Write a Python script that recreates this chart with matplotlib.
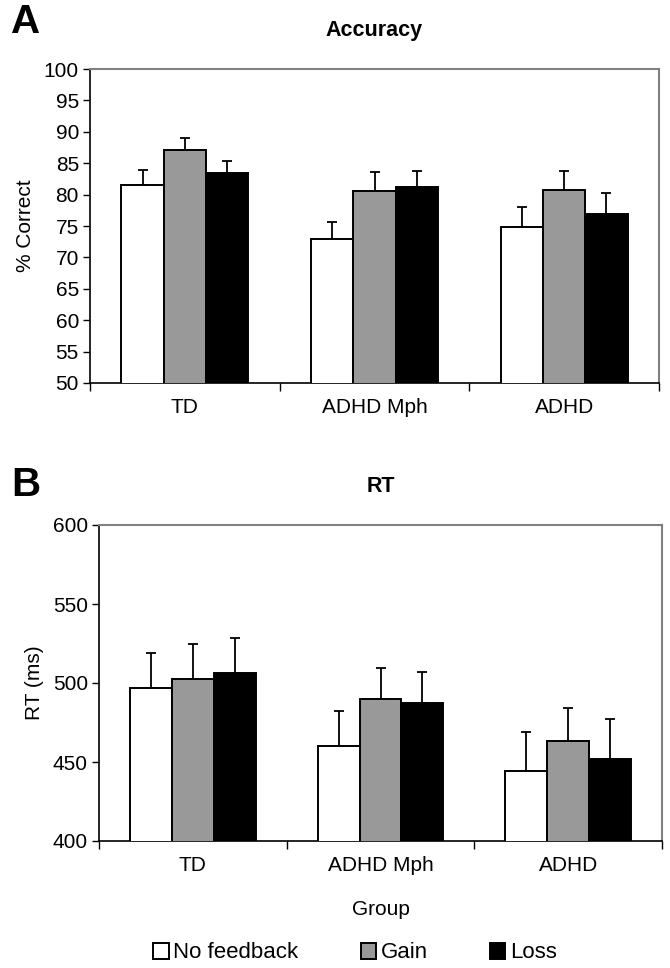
import matplotlib
matplotlib.use("Agg")
import matplotlib.pyplot as plt
import numpy as np

plt.rcParams['font.family'] = ['Liberation Sans', 'DejaVu Sans']

groups = ["TD", "ADHD Mph", "ADHD"]
conditions = ["No feedback", "Gain", "Loss"]
colors = ["#ffffff", "#999999", "#000000"]

acc_mean = {
    "No feedback": [81.5, 72.95, 74.9],
    "Gain": [87.1, 80.6, 80.75],
    "Loss": [83.4, 81.2, 76.9],
}
acc_err = {
    "No feedback": [2.4, 2.75, 3.15],
    "Gain": [1.9, 3.0, 3.05],
    "Loss": [1.95, 2.6, 3.3],
}
rt_mean = {
    "No feedback": [496.6, 460.1, 444.3],
    "Gain": [502.3, 489.7, 463.3],
    "Loss": [506.5, 487.5, 452.1],
}
rt_err = {
    "No feedback": [22.2, 22.4, 24.5],
    "Gain": [22.4, 20.0, 20.9],
    "Loss": [21.8, 19.5, 25.3],
}

acc_ticks = list(range(50, 101, 5))
rt_ticks = [400, 450, 500, 550, 600]

W, H = 670, 968
fig = plt.figure(figsize=(W / 100, H / 100), dpi=100)

def px_axes(l, t, r, b):
    return fig.add_axes([l / W, 1 - b / H, (r - l) / W, (b - t) / H])

axA = px_axes(90, 69, 659, 383)
axB = px_axes(99, 525, 662, 841)

def draw(ax, means, errs, ticks, ylabel, title, show_xlabel):
    n = len(groups)
    x = np.arange(n) + 0.5
    bw = 0.223
    handles = []
    for i, c in enumerate(conditions):
        xs = x + (i - 1) * bw
        h = ax.bar(xs, means[c], width=bw, color=colors[i], edgecolor="black",
                   linewidth=1.4, zorder=3, label=c)
        handles.append(h)
        ax.errorbar(xs, means[c], yerr=[np.zeros(n), errs[c]], fmt="none",
                    ecolor="black", elinewidth=1.3, capsize=3.5, capthick=1.3,
                    zorder=2)
    ax.set_xlim(0, n)
    ax.set_ylim(ticks[0], ticks[-1])
    ax.set_yticks(ticks)
    ax.set_yticklabels([str(t) for t in ticks], fontsize=15)
    ax.set_xticks(np.arange(n + 1))
    ax.set_xticklabels([])
    ax.set_xticks(x, minor=True)
    ax.set_xticklabels(groups, minor=True, fontsize=15)
    ax.tick_params(axis="x", which="minor", length=0, pad=11)
    ax.tick_params(axis="x", which="major", length=6, width=1, direction="out")
    ax.tick_params(axis="y", length=5, width=1, direction="out", pad=3)
    for s in ["top", "right"]:
        ax.spines[s].set_color("#808080")
        ax.spines[s].set_linewidth(1.5)
    for s in ["left", "bottom"]:
        ax.spines[s].set_color("black")
        ax.spines[s].set_linewidth(1.2)
    ax.set_ylabel(ylabel, fontsize=15, labelpad=6)
    ax.set_title(title, fontsize=15.5, fontweight="bold", pad=24)
    if show_xlabel:
        ax.set_xlabel("Group", fontsize=15, labelpad=18)
    return handles

draw(axA, acc_mean, acc_err, acc_ticks, "% Correct", "Accuracy", False)
handles = draw(axB, rt_mean, rt_err, rt_ticks, "RT (ms)", "RT", True)

fig.text(11 / W, 1 - 22 / H, "A", fontsize=29, fontweight="bold", va="center", ha="left")
fig.text(11 / W, 1 - 485 / H, "B", fontsize=29, fontweight="bold", va="center", ha="left")

fig.legend(handles, conditions, loc="center", bbox_to_anchor=(355 / W, 1 - 953 / H),
           ncol=3, frameon=False, fontsize=16, handlelength=0.7, handleheight=0.7,
           handletextpad=0.2, columnspacing=2.8, borderpad=0)

fig.savefig("out.png", dpi=100)
